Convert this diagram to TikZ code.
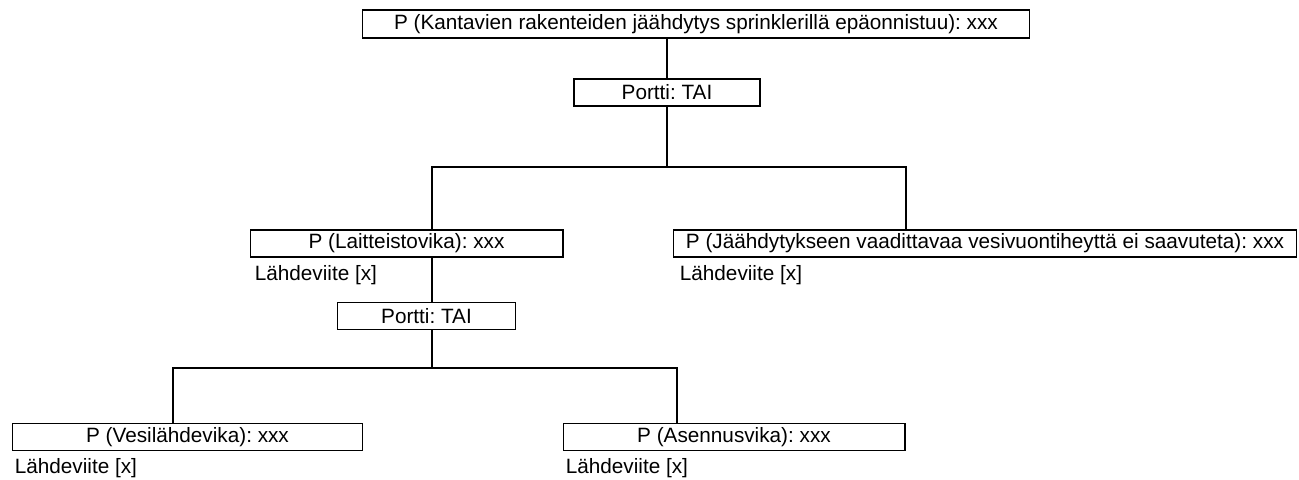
\documentclass[tikz,border=0pt]{standalone}
\usepackage{fontspec}
\setmainfont{Liberation Sans}
\usetikzlibrary{positioning}
\frenchspacing

\begin{document}
\begin{tikzpicture}[x=0.02cm,y=-0.02cm,
  event/.style={draw,line width=0.6pt,minimum height=0.54cm,inner sep=0pt,font=\fontsize{11.8}{14}\selectfont},
  gate/.style={event,minimum width=3.6cm},
  src/.style={anchor=north west,inner sep=0pt,font=\fontsize{11.8}{14}\selectfont},
  conn/.style={line width=0.6pt}]
  \useasboundingbox (0,0) rectangle (1299,480);
  % Top event
  \node[event,minimum width=13.36cm,minimum height=0.56cm] (top) at (696,24) {P (Kantavien rakenteiden jäähdytys sprinklerillä epäonnistuu): xxx};
  \node[gate,minimum width=3.72cm] (g1) at (667,92.5) {Portti: TAI};
  \coordinate (j1) at (667,167);
  \coordinate (b1) at (432,167);
  \coordinate (b2) at (906,167);
  % Level 1
  \node[event,minimum width=6.26cm] (laite) at (406.5,243.5) {P (Laitteistovika): xxx};
  \node[src] (src1) at ([xshift=0.1cm,yshift=-0.15cm]laite.south west) {Lähdeviite [x]};
  \node[event,minimum width=12.48cm] (jaah) at (985,243.5) {P (Jäähdytykseen vaadittavaa vesivuontiheyttä ei saavuteta): xxx};
  \node[src] (src2) at ([xshift=0.14cm,yshift=-0.15cm]jaah.south west) {Lähdeviite [x]};
  % Level 2
  \node[gate,minimum width=3.56cm] (g2) at (426.5,316) {Portti: TAI};
  \coordinate (j2) at (432,368);
  \coordinate (b3) at (173,368);
  \coordinate (b4) at (677,368);
  \node[event,minimum width=7.02cm] (vesi) at (187.5,437) {P (Vesilähdevika): xxx};
  \node[src] (src3) at ([xshift=0.06cm,yshift=-0.15cm]vesi.south west) {Lähdeviite [x]};
  \node[event,minimum width=6.84cm] (asen) at (734,437) {P (Asennusvika): xxx};
  \node[src] (src4) at ([xshift=0.06cm,yshift=-0.15cm]asen.south west) {Lähdeviite [x]};
  % Connectors
  \draw[conn] (g1.north) -- (g1.north |- top.south);
  \draw[conn] (g1.south) -- (j1);
  \draw[conn] (b1 |- laite.north) -- (b1) -- (b2) -- (b2 |- jaah.north);
  \draw[conn] (b1 |- laite.south) -- (b1 |- g2.north);
  \draw[conn] (j2 |- g2.south) -- (j2);
  \draw[conn] (b3 |- vesi.north) -- (b3) -- (b4) -- (b4 |- asen.north);
\end{tikzpicture}
\end{document}
